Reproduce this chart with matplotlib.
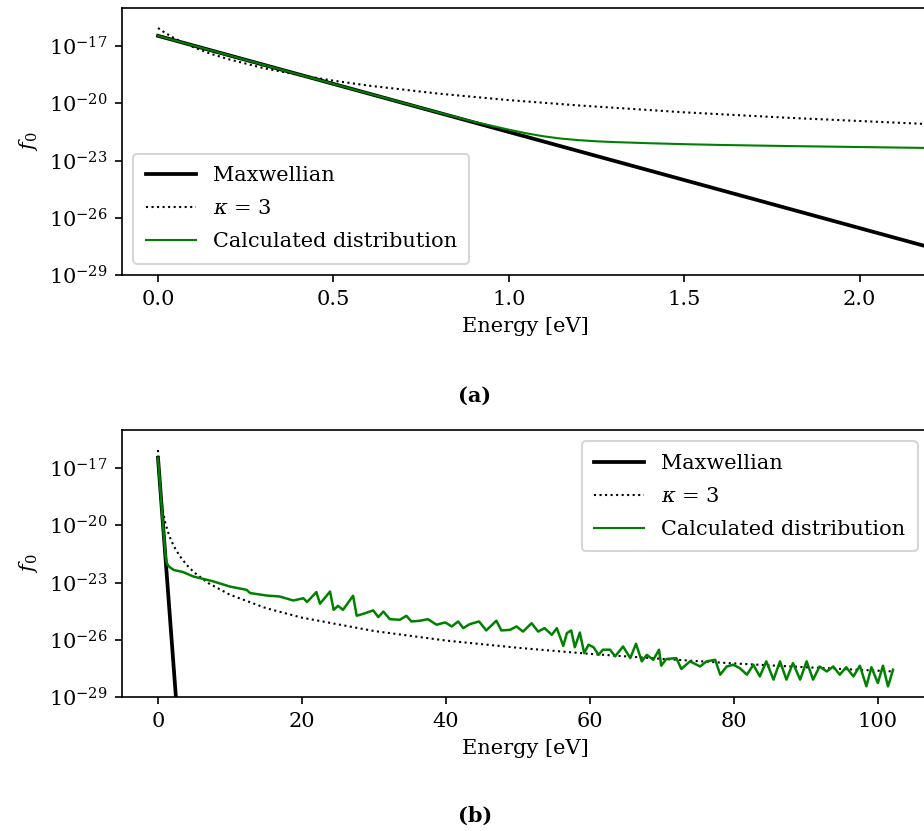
import matplotlib
matplotlib.use("Agg")
import matplotlib.pyplot as plt
import numpy as np

plt.rcParams['font.family'] = ['DejaVu Serif']
plt.rcParams['mathtext.fontset'] = 'dejavuserif'
plt.rcParams['font.size'] = 10

# ---- data (log10 of f0) ----
maxw_E = [0.0, 0.5, 1.0, 1.5, 2.0, 2.5, 3.0]
maxw_log = [-16.46, -18.98, -21.50, -24.02, -26.54, -29.06, -31.58]

kappa_E = [0, 0.02, 0.05, 0.1, 0.15, 0.2, 0.3, 0.4, 0.5, 0.6, 0.8, 1.0, 1.2, 1.5,
           1.8, 2.2, 3, 4, 5, 7, 10, 15, 20, 30, 40, 50, 60, 70, 80, 90, 100, 102]
kappa_log = [-16.05, -16.30, -16.62, -17.05, -17.40, -17.68, -18.15, -18.51, -18.81,
             -19.07, -19.49, -19.83, -20.11, -20.47, -20.76, -21.09, -21.60, -22.08,
             -22.46, -23.03, -23.64, -24.34, -24.84, -25.54, -26.04, -26.42, -26.74,
             -27.00, -27.24, -27.44, -27.62, -27.66]

calc_E = [0, 0.2, 0.4, 0.6, 0.8, 0.9, 1.0, 1.05, 1.1, 1.15, 1.2, 1.25, 1.3, 1.4, 1.5,
          1.6, 1.8, 2.0, 2.2, 3.5, 4.9, 7.7, 10.0, 12.3, 12.8, 15.1, 16.9, 18.8, 20.2,
          20.7, 22.0, 22.5, 23.9, 24.4, 25.0, 25.7, 27.1, 27.6, 28.5, 29.9, 30.6, 31.3,
          32.2, 33.6, 34.5, 35.2, 36.4, 37.5, 38.7, 39.9, 40.8, 41.7, 42.4, 43.3, 44.6,
          45.6, 47.0, 47.7, 48.9, 49.8, 50.7, 51.9, 52.8, 53.7, 54.7, 55.4, 56.3, 56.8,
          57.4, 57.9, 58.6, 59.2, 59.8, 60.5, 61.2, 61.8, 62.8, 63.5, 64.6, 65.6, 66.4,
          67.2, 67.9, 68.8, 69.6, 69.9, 70.6, 72.0, 72.7, 73.9, 75.3, 76.2, 77.4, 78.1,
          79.0, 79.9, 80.8, 81.8, 82.7, 83.6, 84.5, 85.5, 86.4, 87.3, 88.2, 89.2, 90.1,
          91.0, 91.9, 92.9, 93.8, 94.7, 95.6, 96.6, 97.5, 98.4, 99.1, 100.0, 100.7,
          101.4, 101.7, 102.1]
calc_log = [-16.46, -17.47, -18.48, -19.48, -20.48, -20.96, -21.38, -21.57, -21.73,
            -21.85, -21.93, -21.99, -22.03, -22.09, -22.14, -22.18, -22.24, -22.29,
            -22.34, -22.45, -22.68, -22.94, -23.21, -23.38, -23.55, -23.68, -23.73,
            -23.94, -23.82, -24.02, -23.50, -24.11, -23.47, -24.43, -24.22, -24.43,
            -23.69, -24.74, -24.64, -24.46, -24.81, -24.52, -24.92, -24.95, -24.74,
            -25.04, -25.00, -24.92, -25.21, -25.09, -25.30, -25.04, -25.39, -25.18,
            -25.04, -25.51, -25.00, -25.51, -25.48, -25.30, -25.57, -25.13, -25.57,
            -25.39, -25.74, -25.39, -26.32, -25.65, -25.51, -26.39, -25.62, -26.70,
            -26.26, -26.39, -26.79, -26.52, -26.52, -26.87, -26.35, -26.96, -26.21,
            -27.13, -26.79, -27.05, -26.52, -27.36, -27.01, -26.96, -27.53, -27.13,
            -27.40, -27.13, -27.05, -27.83, -27.40, -27.31, -27.48, -27.83, -27.31,
            -27.92, -27.13, -28.09, -27.13, -28.09, -27.22, -28.09, -27.13, -28.09,
            -27.40, -27.66, -27.40, -27.83, -27.44, -27.92, -27.36, -28.44, -27.44,
            -28.27, -27.36, -28.44, -28.09, -27.57]

labels = ['Maxwellian', r'$\kappa$ = 3', 'Calculated distribution']
yticks = [1e-17, 1e-20, 1e-23, 1e-26, 1e-29]
xticks_a = [0.0, 0.5, 1.0, 1.5, 2.0]
xticks_b = [0, 20, 40, 60, 80, 100]

fig = plt.figure(figsize=(6.16, 5.54), dpi=150)
W, H = 924, 831
ax_a = fig.add_axes([122 / W, 1 - 275 / H, 807 / W, 267 / H])
ax_b = fig.add_axes([122 / W, 1 - 697 / H, 807 / W, 267 / H])

def draw(ax, xlim, xticks, loc, lw_calc):
    ax.plot(maxw_E, 10 ** np.array(maxw_log), color='black', lw=1.8, label=labels[0])
    ax.plot(kappa_E, 10 ** np.array(kappa_log), color='black', lw=1.0, ls=':', label=labels[1])
    ax.plot(calc_E, 10 ** np.array(calc_log), color='green', lw=lw_calc, label=labels[2])
    ax.set_yscale('log')
    ax.set_ylim(1e-29, 1e-15)
    ax.set_xlim(*xlim)
    ax.set_yticks(yticks)
    ax.yaxis.set_minor_locator(matplotlib.ticker.NullLocator())
    ax.set_xticks(xticks)
    ax.set_xlabel('Energy [eV]')
    ax.set_ylabel(r'$f_0$')
    leg = ax.legend(loc=loc, handlelength=2.4, handletextpad=0.8, labelspacing=0.67,
                    borderpad=0.6, borderaxespad=0.55)
    for h in leg.get_lines()[2:]:
        h.set_linewidth(1.0)

draw(ax_a, (-0.1027, 2.198), xticks_a, 'lower left', 1.0)
draw(ax_b, (-5.0, 107.1), xticks_b, 'upper right', 1.2)

fig.text(475 / W, 1 - 396 / H, '(a)', ha='center', va='center', fontweight='bold')
fig.text(475 / W, 1 - 816 / H, '(b)', ha='center', va='center', fontweight='bold')

fig.savefig('out.png', dpi=150)
